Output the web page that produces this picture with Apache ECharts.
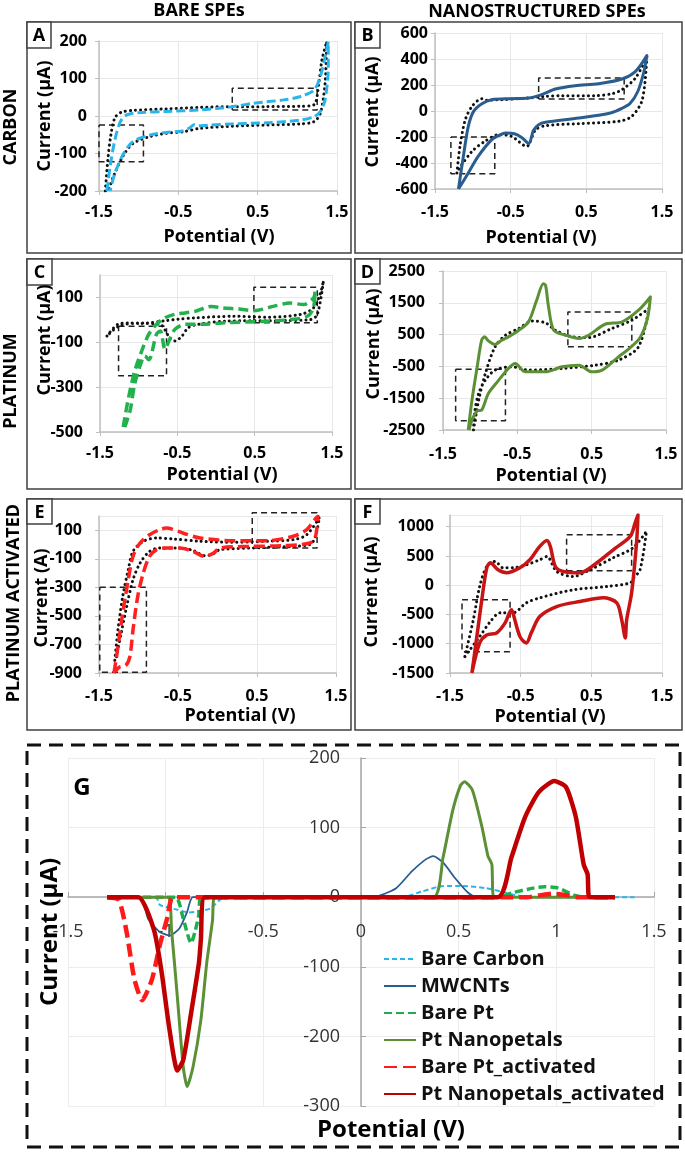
<!DOCTYPE html>
<html lang="en">
<head>
<meta charset="UTF-8">
<title>CV of bare and nanostructured SPEs</title>
<style>body{margin:0;background:#fff;}</style>
</head>
<body>
<div id="main" style="width:685px;height:1152px;"></div>
<script src="https://cdn.jsdelivr.net/npm/echarts@6/dist/echarts.min.js"></script>
<script>
// ---- panel A: carbon, bare ----
var carbonBare = [[-1.40,-200],[-1.36,-135],[-1.30,-64],[-1.23,-15],[-1.15,3],[-0.98,9],[-0.65,12],[-0.23,16],[0.19,25],[0.45,34],[0.83,43],[1.04,52],[1.21,69],[1.29,105],[1.35,158],[1.39,198],[1.39,132],[1.35,43],[1.29,12],[1.21,-2],[1.04,-11],[0.62,-18],[0.20,-21],[-0.14,-25],[-0.25,-26],[-0.30,-23],[-0.36,-32],[-0.45,-40],[-0.65,-44],[-0.86,-51],[-1.07,-68],[-1.19,-100],[-1.30,-153],[-1.36,-200]];
var carbonBareDot = [[-1.42,-200],[-1.39,-120],[-1.35,-50],[-1.30,-5],[-1.22,10],[-1.07,15],[-0.65,19],[-0.23,23],[0.19,25],[0.62,25],[1.04,26],[1.21,30],[1.27,87],[1.31,149],[1.37,198],[1.35,87],[1.29,7],[1.21,-15],[1.04,-21],[0.62,-24],[0.20,-27],[-0.23,-33],[-0.44,-42],[-0.65,-46],[-0.86,-55],[-1.07,-73],[-1.19,-104],[-1.32,-162],[-1.38,-200]];
var boxesA = [[[0.18,16],[1.25,74]], [[-1.50,-24],[-0.94,-122]]];

// ---- panel B: carbon, MWCNTs ----
var carbonNano = [[-1.19,-600],[-1.125,-349],[-1.06,-118],[-0.99,-3],[-0.88,56],[-0.75,87],[-0.49,95],[-0.26,100],[-0.09,126],[0.09,169],[0.35,195],[0.66,210],[0.97,246],[1.15,305],[1.30,426],[1.26,300],[1.18,150],[1.08,60],[0.97,20],[0.82,-15],[0.40,-54],[-0.04,-87],[-0.13,-105],[-0.20,-150],[-0.26,-251],[-0.35,-205],[-0.45,-175],[-0.57,-170],[-0.66,-190],[-0.75,-220],[-0.93,-349],[-1.06,-477],[-1.19,-600]];
var carbonNanoDot = [[-1.21,-477],[-1.17,-272],[-1.10,-67],[-1.01,36],[-0.88,95],[-0.82,82],[-0.75,85],[-0.62,87],[-0.26,100],[-0.04,113],[0.18,118],[0.62,118],[0.84,133],[0.97,164],[1.15,254],[1.30,415],[1.24,87],[1.10,-41],[0.93,-79],[0.40,-97],[-0.04,-113],[-0.17,-144],[-0.29,-272],[-0.49,-195],[-0.66,-182],[-0.84,-233],[-1.01,-310],[-1.19,-451],[-1.21,-477]];
var boxesB = [[[-0.13,92],[1.00,254]], [[-1.29,-200],[-0.71,-482]]];

// ---- panel C: platinum, bare ----
var ptBare = [[-1.20,-478],[-1.13,-345],[-1.05,-227],[-0.96,-138],[-0.87,-65],[-0.77,-20],[-0.66,9],[-0.53,25],[-0.40,31],[-0.27,38],[-0.06,60],[0.09,53],[0.30,48],[0.49,41],[0.74,60],[0.96,75],[1.13,68],[1.26,97],[1.28,127],[1.26,53],[1.18,16],[0.96,1],[0.66,-6],[0.12,-13],[-0.19,-20],[-0.40,-20],[-0.53,-42],[-0.59,-80],[-0.66,-130],[-0.72,-50],[-0.77,-65],[-0.87,-178],[-0.92,-160],[-0.96,-183],[-1.05,-284],[-1.11,-403],[-1.18,-478]];
var ptBareDot = [[-1.41,-72],[-1.27,-20],[-1.14,-14],[-0.92,-14],[-0.64,-3],[-0.49,3],[-0.27,9],[0.23,16],[0.66,12],[1.09,24],[1.26,53],[1.35,119],[1.39,174],[1.31,24],[1.22,1],[0.87,-3],[0.12,-6],[-0.23,-20],[-0.36,-35],[-0.44,-72],[-0.53,-94],[-0.59,-85],[-0.66,-45],[-0.72,-20],[-0.99,-16],[-1.24,-25],[-1.41,-72]];
var boxesC = [[[0.49,-13],[1.31,145]], [[-1.26,-28],[-0.64,-249]]];

// ---- panel D: platinum, nanopetals ----
var ptNano = [[-1.16,-2500],[-1.11,-1559],[-1.04,-512],[-0.98,324],[-0.94,429],[-0.89,303],[-0.80,188],[-0.71,324],[-0.62,429],[-0.48,638],[-0.35,900],[-0.24,1580],[-0.15,2102],[-0.12,2050],[-0.08,1370],[-0.01,638],[0.15,481],[0.33,377],[0.46,481],[0.68,826],[0.91,900],[1.13,1266],[1.29,1684],[1.25,1000],[1.15,400],[1.00,50],[0.86,-199],[0.64,-617],[0.50,-670],[0.33,-460],[0.10,-512],[-0.12,-670],[-0.39,-670],[-0.53,-408],[-0.62,-565],[-0.75,-931],[-0.89,-1349],[-0.98,-1872],[-1.04,-1900],[-1.11,-2186],[-1.15,-2500]];
var ptNanoDot = [[-1.09,-2500],[-1.02,-1559],[-0.93,-722],[-0.80,115],[-0.66,481],[-0.48,690],[-0.30,931],[-0.12,868],[0.01,638],[0.24,429],[0.46,408],[0.77,690],[1.04,952],[1.27,1318],[1.13,115],[0.86,-303],[0.55,-460],[0.10,-565],[-0.35,-617],[-0.57,-512],[-0.80,-617],[-0.93,-931],[-1.02,-1349],[-1.07,-1872],[-1.09,-2500]];
var boxesD = [[[0.18,115],[1.04,1213]], [[-1.33,-586],[-0.66,-2207]]];

// ---- panel E: platinum activated, bare ----
var ptActBare = [[-1.31,-900],[-1.26,-717],[-1.20,-482],[-1.13,-247],[-1.07,-83],[-0.98,11],[-0.86,69],[-0.73,105],[-0.65,116],[-0.44,81],[-0.22,46],[0.20,27],[0.62,27],[0.96,58],[1.13,105],[1.23,175],[1.27,198],[1.24,57],[1.17,11],[0.83,-8],[0.41,-13],[0.03,-24],[-0.05,-60],[-0.16,-83],[-0.31,-48],[-0.48,-24],[-0.65,-24],[-0.77,-36],[-0.86,-83],[-0.94,-200],[-1.01,-365],[-1.07,-599],[-1.11,-787],[-1.16,-846],[-1.24,-858],[-1.31,-900]];
var ptActBareDot = [[-1.30,-811],[-1.26,-599],[-1.20,-365],[-1.13,-177],[-1.07,-48],[-0.94,22],[-0.77,46],[-0.56,39],[-0.22,23],[0.20,16],[0.62,23],[0.96,34],[1.13,69],[1.29,190],[1.24,57],[1.17,0],[0.62,-20],[0.03,-36],[-0.05,-64],[-0.16,-78],[-0.31,-41],[-0.48,-24],[-0.73,-24],[-0.86,-48],[-0.98,-130],[-1.07,-247],[-1.15,-435],[-1.22,-623],[-1.28,-787]];
var boxesE = [[[0.44,-25],[1.26,222]], [[-1.49,-300],[-0.90,-895]]];

// ---- panel F: platinum activated, nanopetals ----
var ptActNano = [[-1.19,-1500],[-1.12,-878],[-1.05,-250],[-0.98,298],[-0.93,384],[-0.82,264],[-0.70,212],[-0.51,298],[-0.37,435],[-0.23,663],[-0.13,765],[-0.08,663],[-0.01,320],[0.10,235],[0.34,212],[0.58,384],[0.81,606],[1.05,834],[1.12,1068],[1.16,1200],[1.14,726],[1.07,-130],[1.00,-592],[0.98,-900],[0.93,-592],[0.86,-301],[0.67,-216],[0.34,-278],[0.01,-364],[-0.23,-536],[-0.35,-815],[-0.42,-986],[-0.51,-878],[-0.61,-472],[-0.63,-420],[-0.72,-644],[-0.84,-815],[-0.98,-849],[-1.08,-986],[-1.19,-1500]];
var ptActNanoDot = [[-1.29,-1220],[-1.17,-592],[-1.08,-22],[-0.98,320],[-0.86,406],[-0.75,298],[-0.60,300],[-0.42,349],[-0.23,435],[-0.13,491],[0.01,235],[0.24,149],[0.48,264],[0.81,469],[1.09,640],[1.28,920],[1.19,264],[1.10,127],[1.05,40],[0.72,-22],[0.24,-79],[-0.23,-216],[-0.42,-301],[-0.61,-472],[-0.79,-472],[-0.93,-622],[-1.08,-878],[-1.22,-1106],[-1.29,-1220]];
var boxesF = [[[0.15,247],[1.07,863]], [[-1.33,-250],[-0.65,-1135]]];

// ---- panel G: stripping peaks ----
var gNames = ['Bare Carbon', 'MWCNTs', 'Bare Pt', 'Pt Nanopetals', 'Bare Pt_activated', 'Pt Nanopetals_activated'];
var gBareCarbon = [[-1.30,0],[-1.05,0],[-1.03,-11],[-0.94,-18],[-0.88,-22],[-0.77,-16],[-0.70,0],[0.21,0],[0.31,8],[0.42,16],[0.52,16],[0.64,13],[0.72,8],[0.79,3],[0.87,0],[1.40,0]];
var gMWCNT = [[-1.30,0],[-1.13,0],[-1.09,-31],[-1.03,-50],[-0.98,-55],[-0.93,-45],[-0.89,-21],[-0.86,0],[0.00,0],[0.09,2],[0.18,13],[0.26,37],[0.33,54],[0.37,59],[0.42,50],[0.48,28],[0.55,6],[0.59,0],[1.30,0]];
var gBarePt = [[-1.30,0],[-0.95,0],[-0.91,-31],[-0.87,-66],[-0.85,-50],[-0.83,-25],[-0.82,0],[0.71,0],[0.77,6],[0.88,13],[0.94,15],[1.01,13],[1.09,3],[1.14,0],[1.30,0]];
var gPtNano = [[-1.30,0],[-0.99,0],[-0.97,-47],[-0.94,-144],[-0.91,-244],[-0.89,-272],[-0.86,-244],[-0.82,-177],[-0.79,-95],[-0.76,-33],[-0.75,0],[0.37,0],[0.42,57],[0.47,125],[0.51,161],[0.53,166],[0.57,154],[0.62,100],[0.65,59],[0.67,47],[0.68,0],[1.30,0]];
var gBarePtAct = [[-1.30,0],[-1.24,-4],[-1.20,-50],[-1.16,-118],[-1.12,-148],[-1.07,-118],[-1.03,-69],[-0.99,-28],[-0.96,0],[0.85,0],[0.92,3],[0.98,5],[1.05,3],[1.11,0],[1.30,0]];
var gPtNanoAct = [[-1.30,0],[-1.14,0],[-1.06,-47],[-1.02,-109],[-0.98,-191],[-0.94,-249],[-0.91,-234],[-0.87,-167],[-0.83,-95],[-0.82,-62],[-0.80,0],[0.70,0],[0.77,57],[0.84,115],[0.91,151],[0.99,167],[1.05,158],[1.10,115],[1.14,47],[1.16,33],[1.17,0],[1.30,0]];

var FONT = '"Open Sans", sans-serif';

// layout of the six small CV panels
var panels = [
    {tag: 'A', grid: [99, 41, 238, 150], y: [-200, 200, 100], yMargin: 12, xMargin: 13, frame: [27, 22, 324, 231], tagBox: [27, 22, 24, 26], xTitle: [219, 237], yTitle: [45, 116], yName: 'Current (µA)'},
    {tag: 'B', grid: [435, 33, 227, 156], y: [-600, 600, 200], yMargin: 7, xMargin: 15, frame: [355, 22, 327, 231], tagBox: [355, 22, 25, 26], xTitle: [541, 238], yTitle: [373, 112], yName: 'Current (µA)'},
    {tag: 'C', grid: [100, 275, 232, 157], y: [-500, 200, 200], yMargin: 17, xMargin: 13, frame: [27, 259, 324, 230], tagBox: [27, 259, 25, 26], xTitle: [222, 475], yTitle: [45, 340], yName: 'Current (µA)'},
    {tag: 'D', grid: [443, 271, 223, 159], y: [-2500, 2500, 1000], yMargin: 18, xMargin: 16, frame: [355, 259, 327, 230], tagBox: [355, 259, 25, 25], xTitle: [551, 476], yTitle: [374, 344], yName: 'Current (µA)'},
    {tag: 'E', grid: [99, 516, 237, 157], y: [-900, 200, 200], yMargin: 17, xMargin: 15, frame: [27, 499, 324, 231], tagBox: [27, 499, 25, 25], xTitle: [240, 716], yTitle: [42, 598], yName: 'Current (A)'},
    {tag: 'F', grid: [450, 515, 212, 158], y: [-1500, 1200, 500], yMargin: 16, xMargin: 15, frame: [355, 499, 327, 231], tagBox: [355, 499, 25, 25], xTitle: [550, 717], yTitle: [372, 592], yName: 'Current (µA)'}
];

var curves = [
    [carbonBareDot, carbonBare, boxesA, {color: '#2AB5EA', width: 3, type: [9, 4]}],
    [carbonNanoDot, carbonNano, boxesB, {color: '#2A5C8E', width: 3, type: 'solid'}],
    [ptBareDot, ptBare, boxesC, {color: '#22B14C', width: 3.5, type: [10, 5]}],
    [ptNanoDot, ptNano, boxesD, {color: '#5B9035', width: 3, type: 'solid'}],
    [ptActBareDot, ptActBare, boxesE, {color: '#FF2020', width: 3.5, type: [11, 5]}],
    [ptActNanoDot, ptActNano, boxesF, {color: '#C81414', width: 3.5, type: 'solid'}]
];

var gStyles = [
    {color: '#2AB5EA', width: 2, type: [5, 3]},
    {color: '#2A5C8E', width: 1.8, type: 'solid'},
    {color: '#1DB04A', width: 3.5, type: [8, 4]},
    {color: '#5B9035', width: 3, type: 'solid'},
    {color: '#FF1A1A', width: 4.5, type: [13, 6]},
    {color: '#C00000', width: 4.5, type: 'solid'}
];
var gData = [gBareCarbon, gMWCNT, gBarePt, gPtNano, gBarePtAct, gPtNanoAct];

function rectPath(b) {
    return [[b[0][0], b[0][1]], [b[1][0], b[0][1]], [b[1][0], b[1][1]], [b[0][0], b[1][1]], [b[0][0], b[0][1]]];
}

function plain(v) { return String(v); }

function txt(s, x, y, size, weight, rot) {
    return {
        type: 'text', x: x, y: y, rotation: rot ? Math.PI / 2 : 0, silent: true,
        style: {text: s, textAlign: 'center', textVerticalAlign: 'middle', fill: '#000',
            font: weight + ' ' + size + 'px ' + FONT}
    };
}

var grids = [], xAxes = [], yAxes = [], series = [], graphics = [];

panels.forEach(function (p, i) {
    grids.push({left: p.grid[0], top: p.grid[1], width: p.grid[2], height: p.grid[3], containLabel: false, outerBoundsMode: 'none'});
    xAxes.push({
        type: 'value', gridIndex: i, min: -1.5, max: 1.5, interval: 1,
        axisLine: {onZero: false, lineStyle: {color: '#bfbfbf', width: 1.5}},
        axisTick: {show: true, length: 4, lineStyle: {color: '#bfbfbf'}},
        splitLine: {show: true, lineStyle: {color: '#e8e8e8'}},
        axisLabel: {margin: p.xMargin, color: '#000', fontFamily: FONT, fontWeight: 'bold', fontSize: 16, formatter: plain}
    });
    yAxes.push({
        type: 'value', gridIndex: i, min: p.y[0], max: p.y[1], interval: p.y[2],
        axisLine: {show: true, onZero: false, lineStyle: {color: '#bfbfbf', width: 1.5}},
        axisTick: {show: true, length: 4, lineStyle: {color: '#bfbfbf'}},
        splitLine: {show: true, lineStyle: {color: '#e8e8e8'}},
        axisLabel: {margin: p.yMargin, color: '#000', fontFamily: FONT, fontWeight: 'bold', fontSize: 16, formatter: plain,
            showMaxLabel: (p.y[1] - p.y[0]) % p.y[2] === 0}
    });
    var c = curves[i];
    c[2].forEach(function (b, k) {
        series.push({
            name: p.tag + ' box ' + k, type: 'line', xAxisIndex: i, yAxisIndex: i, data: rectPath(b),
            symbol: 'none', clip: false, silent: true, z: 1,
            lineStyle: {color: '#222', width: 1.5, type: [6, 4]}
        });
    });
    series.push({
        name: p.tag + ' reference', type: 'line', xAxisIndex: i, yAxisIndex: i, data: c[0],
        symbol: 'none', smooth: 0.3, silent: true, z: 2,
        lineStyle: {color: '#111', width: 3, type: [0.1, 5], cap: 'round'}
    });
    series.push({
        name: p.tag + ' electrode', type: 'line', xAxisIndex: i, yAxisIndex: i, data: c[1],
        symbol: 'none', smooth: 0.3, silent: true, z: 3,
        lineStyle: {color: c[3].color, width: c[3].width, type: c[3].type, join: 'round'}
    });
    // frames, tags, titles
    graphics.push({type: 'rect', silent: true, shape: {x: p.frame[0], y: p.frame[1], width: p.frame[2], height: p.frame[3]},
        style: {fill: 'none', stroke: '#404040', lineWidth: 1.5}});
    graphics.push({type: 'rect', silent: true, shape: {x: p.tagBox[0], y: p.tagBox[1], width: p.tagBox[2], height: p.tagBox[3]},
        style: {fill: '#fff', stroke: '#404040', lineWidth: 1.5}});
    graphics.push(txt(p.tag, p.tagBox[0] + p.tagBox[2] / 2, p.tagBox[1] + p.tagBox[3] / 2 + 1, 18, 'bold', false));
    graphics.push(txt('Potential (V)', p.xTitle[0], p.xTitle[1], 18, 'bold', false));
    graphics.push(txt(p.yName, p.yTitle[0], p.yTitle[1], 18, 'bold', true));
});

// panel G: axes crossing at the origin (x=0 at 361px, y=0 at 897px)
var gi = panels.length;
grids.push({left: 68, top: 758, width: 586, height: 348, containLabel: false, outerBoundsMode: 'none'});
xAxes.push({
    type: 'value', gridIndex: gi, min: -1.5, max: 1.5, interval: 0.5, position: 'bottom', offset: -209,
    axisLine: {onZero: false, lineStyle: {color: '#a6a6a6', width: 1.5}},
    axisTick: {show: true, inside: true, length: 5, lineStyle: {color: '#a6a6a6'}},
    splitLine: {show: true, lineStyle: {color: '#ececec'}},
    axisLabel: {margin: 26, color: '#333', fontFamily: FONT, fontSize: 18, formatter: plain}
});
yAxes.push({
    type: 'value', gridIndex: gi, min: -300, max: 200, interval: 100, position: 'left', offset: -293,
    axisLine: {show: true, onZero: false, lineStyle: {color: '#a6a6a6', width: 1.5}},
    axisTick: {show: true, inside: true, length: 5, lineStyle: {color: '#a6a6a6'}},
    splitLine: {show: true, lineStyle: {color: '#ececec'}},
    axisLabel: {margin: 21, color: '#333', fontFamily: FONT, fontSize: 18, formatter: plain}
});
gNames.forEach(function (n, k) {
    series.push({
        name: n, type: 'line', xAxisIndex: gi, yAxisIndex: gi, data: gData[k],
        symbol: 'none', smooth: 0.2, silent: true, z: 3 + k,
        lineStyle: {color: gStyles[k].color, width: gStyles[k].width, type: gStyles[k].type, join: 'round'},
        itemStyle: {color: gStyles[k].color}
    });
});
graphics.push({type: 'rect', silent: true, shape: {x: 27, y: 745, width: 653, height: 402},
    style: {fill: 'none', stroke: '#111', lineWidth: 3, lineDash: [14, 8]}});
graphics.push(txt('G', 82, 788, 24, 'bold', false));
graphics.push(txt('Potential (V)', 391, 1130, 24, 'bold', false));
graphics.push(txt('Current (µA)', 50, 932, 24, 'bold', true));

// column and row headings
graphics.push(txt('BARE SPEs', 199, 11, 18, 'bold', false));
graphics.push(txt('NANOSTRUCTURED SPEs', 537, 12, 18, 'bold', false));
graphics.push(txt('CARBON', 11, 127, 18, 'bold', true));
graphics.push(txt('PLATINUM', 11, 381, 18, 'bold', true));
graphics.push(txt('PLATINUM ACTIVATED', 14, 603, 18, 'bold', true));

var chart = echarts.init(document.getElementById('main'));
chart.setOption({
    animation: false,
    backgroundColor: '#fff',
    grid: grids,
    xAxis: xAxes,
    yAxis: yAxes,
    legend: {
        data: gNames, orient: 'vertical', left: 378, top: 944,
        itemWidth: 32, itemHeight: 12, itemGap: 7, selectedMode: false,
        itemStyle: {opacity: 0},
        textStyle: {fontFamily: FONT, fontSize: 20, fontWeight: 'bold', color: '#111'}
    },
    graphic: graphics,
    series: series
});
</script>
</body>
</html>
